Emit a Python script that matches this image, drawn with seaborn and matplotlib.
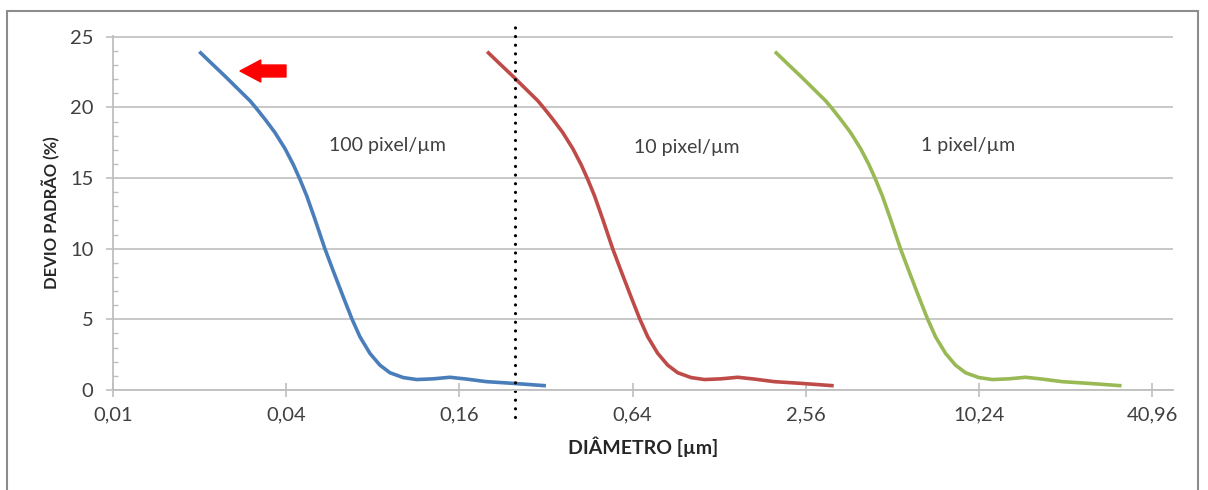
import matplotlib

matplotlib.use("Agg")

import matplotlib.pyplot as plt
import pandas as pd
import seaborn as sns
from matplotlib.patches import Rectangle
from matplotlib.ticker import MultipleLocator, NullLocator


# values
diametro_100px = [
    0.020, 0.0221, 0.0246, 0.0273, 0.0300, 0.0316, 0.0338, 0.0366,
    0.0397, 0.0424, 0.0447, 0.0472, 0.0504, 0.0546, 0.0584, 0.0633,
    0.0677, 0.0723, 0.0783, 0.0848, 0.0919, 0.1022, 0.1138, 0.130,
    0.1485, 0.170, 0.199, 0.246, 0.320,
]

diametro_10px = [
    0.200, 0.221, 0.246, 0.273, 0.300, 0.316, 0.338, 0.366,
    0.397, 0.424, 0.447, 0.472, 0.504, 0.546, 0.584, 0.633,
    0.677, 0.723, 0.783, 0.848, 0.919, 1.022, 1.138, 1.30,
    1.485, 1.70, 1.99, 2.46, 3.20,
]

diametro_1px = [
    2.00, 2.21, 2.46, 2.73, 3.00, 3.16, 3.38, 3.66,
    3.97, 4.24, 4.47, 4.72, 5.04, 5.46, 5.84, 6.33,
    6.77, 7.23, 7.83, 8.48, 9.19, 10.22, 11.38, 13.0,
    14.85, 17.0, 19.9, 24.6, 32.0,
]

devio_padrao = [
    23.95, 23.1, 22.2, 21.29, 20.47, 19.92, 19.17, 18.23,
    17.08, 15.96, 14.92, 13.75, 12.1, 10.0, 8.42, 6.57,
    5.06, 3.76, 2.59, 1.76, 1.22, 0.88, 0.74, 0.79,
    0.9, 0.77, 0.59, 0.47, 0.30,
]

series_names = [
    "100 pixel/µm",
    "10 pixel/µm",
    "1 pixel/µm",
]

series_colors = [
    "#4a7ebb",
    "#be4b48",
    "#98b954",
]

label_x = [
    0.0564,
    0.647,
    6.45,
]

label_y = [
    17.3,
    17.15,
    17.3,
]

x_ticks = [0.01, 0.04, 0.16, 0.64, 2.56, 10.24, 40.96]

x_tick_labels = ["0,01", "0,04", "0,16", "0,64", "2,56", "10,24", "40,96"]

y_ticks = [0, 5, 10, 15, 20, 25]

limite_diametro = 0.25

seta_ponta = (0.0277, 22.58)

seta_cauda = (0.040, 22.58)


sns.set_theme(style="white")

plt.rcParams["font.family"] = ["Lato", "DejaVu Sans"]

frames = []

for name, diametros in zip(
    series_names,
    [diametro_100px, diametro_10px, diametro_1px],
):
    frames.append(
        pd.DataFrame(
            {
                "diametro": diametros,
                "devio": devio_padrao,
                "serie": name,
            }
        )
    )

data = pd.concat(frames, ignore_index=True)

figure = plt.figure(
    figsize=(12.08, 4.9),
    dpi=100,
)

axis = figure.add_axes([0.0933, 0.2041, 0.8777, 0.7231])

sns.lineplot(
    data=data,
    x="diametro",
    y="devio",
    hue="serie",
    hue_order=series_names,
    palette=series_colors,
    estimator=None,
    sort=False,
    linewidth=2.6,
    legend=False,
    ax=axis,
)

for line in axis.get_lines():
    line.set_solid_joinstyle("round")
    line.set_solid_capstyle("butt")

for name, tx, ty in zip(
    series_names,
    label_x,
    label_y,
):
    axis.text(
        tx,
        ty,
        name,
        ha="left",
        va="center",
        fontsize=14,
        color="#404040",
    )

axis.plot(
    [limite_diametro, limite_diametro],
    [-1.9, 26.25],
    color="black",
    linewidth=2.3,
    dashes=(0.01, 2.7),
    dash_capstyle="round",
    clip_on=False,
)

axis.annotate(
    "",
    xy=seta_ponta,
    xytext=seta_cauda,
    arrowprops=dict(
        arrowstyle="simple,head_length=14.9,head_width=15.8,tail_width=8.6",
        mutation_scale=1,
        color="#ff0000",
        shrinkA=0,
        shrinkB=0,
    ),
)

axis.set_xscale("log", base=4)

axis.set_xlim(0.01, 48.3)

axis.set_ylim(0, 25.08)

axis.set_xticks(x_ticks)

axis.set_xticklabels(x_tick_labels)

axis.xaxis.set_minor_locator(NullLocator())

axis.set_yticks(y_ticks)

axis.yaxis.set_minor_locator(MultipleLocator(1))

axis.tick_params(
    axis="x",
    which="major",
    direction="inout",
    length=10,
    width=1.2,
    color="#bfbfbf",
    labelsize=14.5,
    labelcolor="#404040",
    pad=7,
    bottom=True,
)

axis.tick_params(
    axis="y",
    which="major",
    direction="out",
    length=5,
    width=1.2,
    color="#bfbfbf",
    labelsize=14.5,
    labelcolor="#404040",
    pad=9,
    left=True,
)

axis.tick_params(
    axis="y",
    which="minor",
    direction="in",
    length=3.6,
    width=1.0,
    color="#bfbfbf",
    left=True,
)

axis.yaxis.grid(
    True,
    color="#c4c4c4",
    linewidth=1.3,
)

axis.xaxis.grid(False)

for side in ["top", "right"]:
    axis.spines[side].set_visible(False)

for side in ["left", "bottom"]:
    axis.spines[side].set_color("#bfbfbf")
    axis.spines[side].set_linewidth(1.3)

axis.set_xlabel(
    "DIÂMETRO [µm]",
    fontsize=14,
    fontweight="bold",
    color="#262626",
    labelpad=9,
)

axis.set_ylabel(
    "DEVIO PADRÃO (%)",
    fontsize=12,
    fontweight="bold",
    color="#262626",
    labelpad=7,
)

figure.patches.append(
    Rectangle(
        (6.7 / 1208, -0.01),
        (1198 - 6.7) / 1208,
        (490 - 11) / 490 + 0.01,
        transform=figure.transFigure,
        fill=False,
        edgecolor="#8c8c8c",
        linewidth=1.5,
    )
)

figure.savefig(
    "out.png",
    dpi=100,
)

plt.close(figure)
